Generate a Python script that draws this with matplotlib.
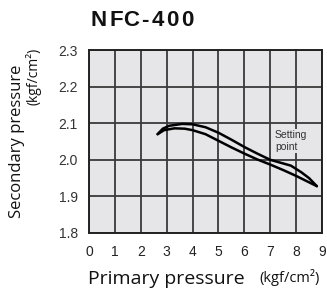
import matplotlib
matplotlib.use("Agg")
import matplotlib.pyplot as plt

# Flow characteristics
upper_x = [2.65, 2.85, 3.1, 3.6, 4.0, 4.5, 5.0, 5.5, 6.0, 6.5, 7.0, 7.4, 7.8, 8.2, 8.5, 8.8]
upper_y = [2.070, 2.085, 2.093, 2.098, 2.097, 2.089, 2.074, 2.055, 2.035, 2.017, 2.000, 1.992, 1.984, 1.966, 1.950, 1.928]
lower_x = [2.65, 2.9, 3.3, 3.7, 4.0, 4.5, 5.0, 5.5, 6.0, 6.5, 7.0, 7.5, 8.0, 8.4, 8.8]
lower_y = [2.070, 2.081, 2.086, 2.085, 2.081, 2.070, 2.052, 2.034, 2.017, 2.001, 1.987, 1.972, 1.956, 1.942, 1.928]

x_ticks = list(range(0, 10))
y_ticks = [1.8, 1.9, 2.0, 2.1, 2.2, 2.3]
title_chars = list("NFC-400")

W, H = 327, 290
fig = plt.figure(figsize=(W / 100, H / 100), dpi=100)
ax = fig.add_axes([89 / W, 1 - 233 / H, 233 / W, 183 / H])
ax.set_facecolor("#e6e6e8")

ax.plot(upper_x, upper_y, color="black", lw=1.8, solid_capstyle="round")
ax.plot(lower_x, lower_y, color="black", lw=1.8, solid_capstyle="round")

ax.set_xlim(0, 9)
ax.set_ylim(1.8, 2.3)
ax.set_xticks(x_ticks)
ax.set_yticks(y_ticks)
ax.set_xticklabels([str(v) for v in x_ticks], fontfamily="Liberation Sans", fontsize=10, color="#222222")
ax.set_yticklabels([f"{v:.1f}" for v in y_ticks], fontfamily="Liberation Sans", fontsize=10, color="#333333")
ax.tick_params(axis="x", length=0, pad=9)
ax.tick_params(axis="y", length=0, pad=8)
ax.grid(True, color="#3a3a3a", lw=1.3)
ax.set_axisbelow(True)
for s in ax.spines.values():
    s.set_color("#222222")
    s.set_linewidth(1.4)

ax.text(7.18, 2.051, "Setting\npoint", fontfamily="Liberation Sans", fontsize=7.5,
        color="#333333", va="center", ha="left", linespacing=1.25,
        bbox=dict(facecolor="#e6e6e8", edgecolor="none", pad=1.0))

# Title with spaced letters
offsets = [99, 116, 131.5, 145, 158, 172, 187]
for ch, px in zip(title_chars, offsets):
    fig.text(px / W, 1 - 20 / H, ch, fontfamily="Liberation Sans", fontweight="bold",
             fontsize=16, ha="center", va="center", color="#111111")

fig.text(17 / W, 1 - 141 / H, "Secondary pressure", rotation=90, fontfamily="Open Sans",
         fontsize=12, ha="center", va="center", color="#111111")
fig.text(34 / W, 1 - 76 / H, "(kgf/cm²)", rotation=90, fontfamily="Open Sans",
         fontsize=10, ha="center", va="center", color="#111111")
fig.text(166 / W, 1 - 279 / H, "Primary pressure", fontfamily="Open Sans",
         fontsize=14, ha="center", va="center", color="#111111")
fig.text(290 / W, 1 - 278 / H, "(kgf/cm²)", fontfamily="Open Sans",
         fontsize=10.5, ha="center", va="center", color="#111111")

fig.savefig("out.png", dpi=100)
